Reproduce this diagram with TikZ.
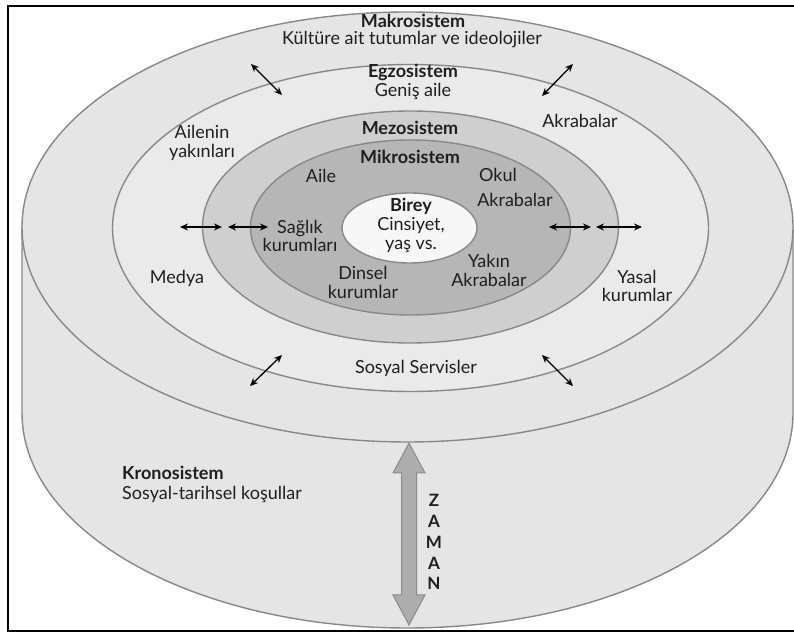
\documentclass[tikz,border=0pt]{standalone}
\usepackage{fontspec}
\setmainfont{Lato}
\usetikzlibrary{arrows.meta}
\definecolor{ringline}{HTML}{888888}
\definecolor{outerfill}{HTML}{E5E5E5}
\definecolor{egzofill}{HTML}{EAEAEA}
\definecolor{mezofill}{HTML}{CFCFCF}
\definecolor{mikrofill}{HTML}{B6B6B6}
\definecolor{bireyfill}{HTML}{F7F7F7}
\definecolor{txt}{HTML}{1E1E1E}
\definecolor{zamanfill}{HTML}{ADADAD}
\definecolor{zamanline}{HTML}{8A8A8A}
\tikzset{
  ring/.style={draw=ringline, line width=1.4pt},
  lbl/.style={text=txt, inner sep=0pt, align=center, font=\fontsize{18}{18.5}\selectfont},
  head/.style={text=txt, inner sep=0pt, align=center, font=\fontsize{18}{20}\selectfont\bfseries},
  twoway/.style={line width=1.3pt, {Stealth[length=8pt,width=7pt]}-{Stealth[length=8pt,width=7pt]}},
  zletter/.style={text=txt, inner sep=0pt, font=\fontsize{17}{18}\selectfont\bfseries}
}
\begin{document}
\begin{tikzpicture}[x=1pt,y=1pt]
\useasboundingbox (0,0) rectangle (794,636);
\fill[white] (0,0) rectangle (794,636);
% cylinder body
\draw[ring, fill=outerfill] (22,409) -- (22,223) arc[start angle=180,end angle=360,x radius=385.5,y radius=215] -- (793,409) -- cycle;
% top ellipse (makrosistem)
\draw[ring, fill=outerfill] (407.5,409) ellipse [x radius=385.5, y radius=215];
% egzosistem
\draw[ring, fill=egzofill] (410.5,408) ellipse [x radius=298, y radius=163.5];
% mezosistem
\draw[ring, fill=mezofill] (410.5,409) ellipse [x radius=208, y radius=116];
% mikrosistem
\draw[ring, fill=mikrofill] (410.5,408.5) ellipse [x radius=160, y radius=87.5];
% birey
\draw[ring, fill=bireyfill] (409.5,408) ellipse [x radius=67.5, y radius=35];
% frame
\draw[line width=2pt, black] (800,630) -- (8,630) -- (8,5) -- (800,5);

% labels
\node[head] (makro) at (413,615) {Makrosistem};
\node[lbl] (kultur) at (412,596) {Kültüre ait tutumlar ve ideolojiler};
\node[head] (egzo) at (413,564) {Egzosistem};
\node[lbl] (genis) at (413,545) {Geniş aile};
\node[head] (mezo) at (410,508) {Mezosistem};
\node[head] (mikro) at (410,479) {Mikrosistem};
\node[lbl] (aile) at (321,460) {Aile};
\node[lbl] (okul) at (498,461) {Okul};
\node[lbl] (akrab1) at (515,436) {Akrabalar};
\node[head] (birey) at (411,430) {Birey};
\node[lbl] (cins) at (411,401) {Cinsiyet,\\yaş vs.};
\node[lbl] (saglik) at (300,400) {Sağlık\\kurumları};
\node[lbl] (dinsel) at (363,353.5) {Dinsel\\kurumlar};
\node[lbl] (yakin) at (489,365.5) {Yakın\\Akrabalar};
\node[lbl] (medya) at (177,358) {Medya};
\node[lbl] (yasal) at (637,350) {Yasal\\kurumlar};
\node[lbl] (ailenin) at (202,493) {Ailenin\\yakınları};
\node[lbl] (akrab2) at (580,515) {Akrabalar};
\node[lbl] (sosyal) at (416,268) {Sosyal Servisler};
\node[head, anchor=west] (krono) at (122,163) {Kronosistem};
\node[lbl, anchor=west] (tarih) at (122,142) {Sosyal-tarihsel koşullar};

% two-way arrows
\coordinate (l1a) at (180,409); \coordinate (l1b) at (222,409);
\coordinate (l2a) at (228,409); \coordinate (l2b) at (268,409);
\coordinate (r1a) at (549,409); \coordinate (r1b) at (591,409);
\coordinate (r2a) at (596,409); \coordinate (r2b) at (642,409);
\coordinate (tla) at (251,572); \coordinate (tlb) at (282,541);
\coordinate (tra) at (573,572); \coordinate (trb) at (542,540);
\coordinate (bla) at (250,250); \coordinate (blb) at (282,281);
\coordinate (bra) at (542,281); \coordinate (brb) at (573,250);
\draw[twoway] (l1a) -- (l1b);
\draw[twoway] (l2a) -- (l2b);
\draw[twoway] (r1a) -- (r1b);
\draw[twoway] (r2a) -- (r2b);
\draw[twoway] (tla) -- (tlb);
\draw[twoway] (tra) -- (trb);
\draw[twoway] (bla) -- (blb);
\draw[twoway] (bra) -- (brb);

% ZAMAN arrow
\draw[fill=zamanfill, draw=zamanline, line width=1pt, line join=miter]
  (409,193) -- (425,163) -- (416.5,163) -- (416.5,41) -- (425,41) -- (409,11)
  -- (393,41) -- (401.5,41) -- (401.5,163) -- (393,163) -- cycle;
\node[zletter] (z1) at (434,136) {Z};
\node[zletter] (z2) at (434,115) {A};
\node[zletter] (z3) at (434,94) {M};
\node[zletter] (z4) at (434,73) {A};
\node[zletter] (z5) at (434,53) {N};
\end{tikzpicture}
\end{document}
